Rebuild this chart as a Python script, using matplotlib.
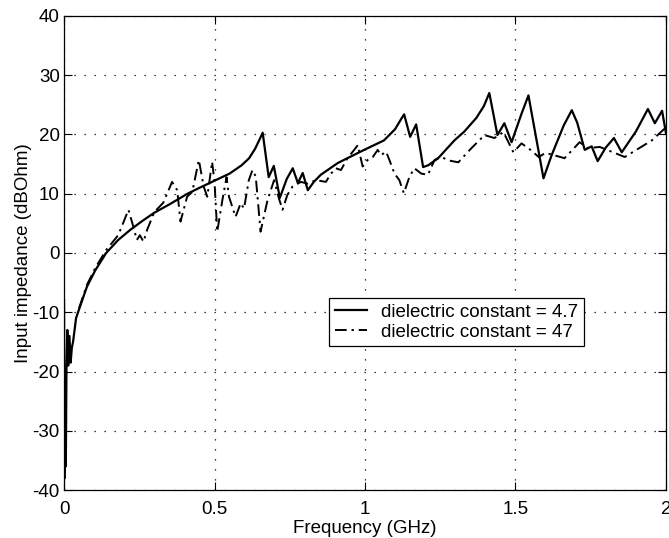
import matplotlib
matplotlib.use("Agg")
import matplotlib.pyplot as plt

plt.rcParams['font.family'] = ['Liberation Sans', 'DejaVu Sans']
plt.rcParams['axes.unicode_minus'] = False

# dielectric constant = 4.7 (solid)
freq_a = [0.000, 0.002, 0.004, 0.006, 0.008, 0.011, 0.014, 0.018, 0.022, 0.026, 0.03,
          0.04, 0.05, 0.076, 0.103, 0.14, 0.18, 0.22, 0.26, 0.30, 0.35, 0.41, 0.45,
          0.50, 0.55, 0.59, 0.615, 0.635, 0.65, 0.66, 0.68, 0.697, 0.717, 0.74, 0.76,
          0.777, 0.793, 0.81, 0.83, 0.853, 0.91, 0.997, 1.063, 1.10, 1.12, 1.13, 1.15,
          1.17, 1.193, 1.21, 1.243, 1.27, 1.297, 1.33, 1.37, 1.395, 1.413, 1.44, 1.463,
          1.487, 1.52, 1.543, 1.593, 1.62, 1.66, 1.687, 1.705, 1.73, 1.753, 1.773,
          1.80, 1.827, 1.853, 1.90, 1.94, 1.963, 1.987, 2.0]
imp_a = [-8, -38, -24, -36, -20, -13, -19, -14, -18.5, -16, -15,
         -11, -9.5, -5.7, -3.0, 0, 2.2, 3.9, 5.4, 6.8, 8.2, 10.0, 11.0,
         12.2, 13.4, 14.8, 16.0, 17.6, 19.2, 20.3, 12.8, 14.7, 9.3, 12.5, 14.3,
         11.8, 13.5, 10.6, 12.0, 13.2, 15.2, 17.4, 19.0, 20.9, 22.6, 23.4, 19.6,
         21.7, 14.5, 14.8, 16.0, 17.5, 19.0, 20.5, 22.8, 24.8, 27.0, 19.9, 21.9,
         18.7, 23.5, 26.6, 12.6, 16.5, 21.5, 24.1, 22.0, 17.4, 18.0, 15.5,
         17.8, 19.4, 17.0, 20.5, 24.3, 21.9, 24.0, 20.2]

# dielectric constant = 47 (dash-dot)
freq_b = [0.05, 0.076, 0.103, 0.14, 0.18, 0.20, 0.214, 0.23, 0.242, 0.252, 0.264, 0.276,
          0.30, 0.33, 0.359, 0.376, 0.387, 0.409, 0.426, 0.448, 0.464, 0.476, 0.492,
          0.50, 0.509, 0.526, 0.54, 0.548, 0.57, 0.587, 0.598, 0.614, 0.626, 0.637,
          0.653, 0.676, 0.698, 0.714, 0.726, 0.742, 0.759, 0.787, 0.809, 0.837, 0.87,
          0.887, 0.903, 0.92, 0.942, 0.964, 0.976, 0.992, 1.009, 1.026, 1.042, 1.053,
          1.07, 1.081, 1.098, 1.114, 1.129, 1.148, 1.164, 1.187, 1.209, 1.231, 1.253,
          1.28, 1.31, 1.35, 1.397, 1.43, 1.46, 1.493, 1.52, 1.55, 1.577, 1.60, 1.663,
          1.713, 1.74, 1.78, 1.863, 1.953, 2.0]
imp_b = [-9.3, -5.4, -2.6, 0.5, 3.0, 5.5, 7.3, 4.5, 2.2, 3.0, 1.9, 3.9,
         6.9, 8.5, 12.0, 10.6, 5.3, 9.5, 10.3, 15.7, 11.2, 9.5, 15.4,
         12.0, 3.6, 8.9, 12.8, 9.5, 6.1, 8.4, 7.5, 12.3, 14.0, 12.9,
         3.6, 8.9, 12.3, 9.2, 7.3, 9.8, 11.2, 12.0, 11.7, 12.3, 12.0,
         13.4, 14.3, 14.0, 16.0, 17.4, 18.2, 14.6, 15.7, 16.2, 17.4, 16.5,
         17.1, 15.7, 13.4, 12.3, 10.1, 12.9, 14.3, 13.4, 13.2, 15.7, 16.2,
         15.6, 15.3, 17.5, 19.9, 19.4, 20.4, 17.0, 18.5, 17.4, 16.2, 16.9, 16.0,
         18.7, 17.7, 17.9, 16.2, 19.0, 21.2]

xticks = [0, 0.5, 1, 1.5, 2]
xticklabels = ['0', '0.5', '1', '1.5', '2']
yticks = [-40, -30, -20, -10, 0, 10, 20, 30, 40]

FS = 13.5

fig = plt.figure(figsize=(6.69, 5.38), dpi=100)
ax = fig.add_axes([0.0957, 0.0892, 0.8998, 0.8811])

ax.plot(freq_a, imp_a, color='black', linestyle='-', linewidth=1.6,
        label='dielectric constant = 4.7')
ax.plot(freq_b, imp_b, color='black', linestyle=(0, (6, 2.5, 1.2, 2.5)), linewidth=1.4,
        label='dielectric constant = 47')

ax.set_xlim(0, 2)
ax.set_ylim(-40, 40)
ax.set_xticks(xticks)
ax.set_xticklabels(xticklabels)
ax.set_yticks(yticks)
ax.tick_params(direction='in', top=True, right=True, labelsize=FS, length=6, width=0.8)
ax.tick_params(axis='x', pad=8)
ax.tick_params(axis='y', pad=3)
ax.grid(True, linestyle=(0, (1, 7)), color='black', linewidth=0.9)
for s in ax.spines.values():
    s.set_linewidth(0.9)

ax.set_xlabel('Frequency (GHz)', fontsize=FS, labelpad=1)
ax.set_ylabel('Input impedance (dBOhm)', fontsize=FS, labelpad=0)

leg = ax.legend(loc='lower left', bbox_to_anchor=(0.441, 0.303), fontsize=FS,
                frameon=True, fancybox=False, edgecolor='black', framealpha=1,
                handlelength=1.7, handletextpad=0.75, borderpad=0.3,
                labelspacing=0.15, borderaxespad=0)
leg.get_frame().set_linewidth(0.9)

fig.savefig('out.png', dpi=100)
